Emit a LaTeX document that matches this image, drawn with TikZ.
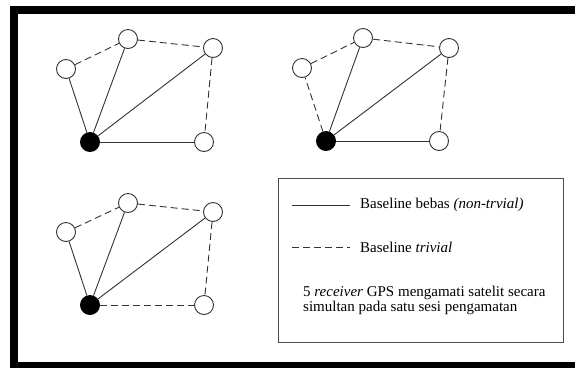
\documentclass[tikz,border=0pt]{standalone}
\usepackage{fontspec}
\setmainfont{Liberation Serif}
\tikzset{
  station/.style={circle, draw=black!80, fill=white, line width=0.9pt, minimum size=19pt, inner sep=0pt},
  basestation/.style={station, fill=black, draw=black},
  freeline/.style={draw=black!80, line width=0.9pt},
  trivline/.style={draw=black!80, line width=0.9pt, dash pattern=on 7pt off 4pt},
  legendtext/.style={anchor=west, inner sep=0pt, font=\fontsize{15}{15}\selectfont}
}
\begin{document}
\begin{tikzpicture}[x=1pt,y=-1pt]
\useasboundingbox (0,0) rectangle (575,368);
% heavy frame (open on the right)
\fill[black] (10,6) rectangle (575,14);
\fill[black] (10,6) rectangle (17.5,368);
\fill[black] (10,362) rectangle (575,368);

% network 1
\node[station] (a1) at (66,69) {};
\node[station] (b1) at (128,39) {};
\node[station] (c1) at (213,48) {};
\node[station] (d1) at (204,142) {};
\node[basestation] (e1) at (90,142) {};
\draw[freeline] (e1) -- (a1);
\draw[freeline] (e1) -- (b1);
\draw[freeline] (e1) -- (c1);
\draw[freeline] (e1) -- (d1);
\draw[trivline] (a1) -- (b1);
\draw[trivline] (b1) -- (c1);
\draw[trivline] (c1) -- (d1);

% network 2
\node[station] (a2) at (302,68) {};
\node[station] (b2) at (363,38) {};
\node[station] (c2) at (449,48) {};
\node[station] (d2) at (439,141) {};
\node[basestation] (e2) at (326,141) {};
\draw[trivline] (e2) -- (a2);
\draw[freeline] (e2) -- (b2);
\draw[freeline] (e2) -- (c2);
\draw[freeline] (e2) -- (d2);
\draw[trivline] (a2) -- (b2);
\draw[trivline] (b2) -- (c2);
\draw[trivline] (c2) -- (d2);

% network 3
\node[station] (a3) at (66,232) {};
\node[station] (b3) at (128,203) {};
\node[station] (c3) at (213,212) {};
\node[station] (d3) at (204,305) {};
\node[basestation] (e3) at (90,305) {};
\draw[freeline] (e3) -- (a3);
\draw[freeline] (e3) -- (b3);
\draw[freeline] (e3) -- (c3);
\draw[trivline] (e3) -- (d3);
\draw[trivline] (a3) -- (b3);
\draw[trivline] (b3) -- (c3);
\draw[trivline] (c3) -- (d3);

% legend
\node[draw=black!70, line width=1pt, minimum width=285pt, minimum height=164pt, anchor=north west, inner sep=0pt] (legend) at (277.5,178) {};
\coordinate (s0) at (292,205);
\coordinate (s1) at (350,205);
\coordinate (t0) at (292,247);
\coordinate (t1) at (350,247);
\draw[freeline] (s0) -- (s1);
\draw[trivline] (t0) -- (t1);
\node[legendtext] (lfree) at (360,205) {Baseline bebas \textit{(non-trvial)}};
\node[legendtext] (ltriv) at (360,247) {Baseline \textit{trivial}};
\node[legendtext, align=left] (lnote) at (303,300) {5 \textit{receiver} GPS mengamati satelit secara\\simultan pada satu sesi pengamatan};
\end{tikzpicture}
\end{document}
